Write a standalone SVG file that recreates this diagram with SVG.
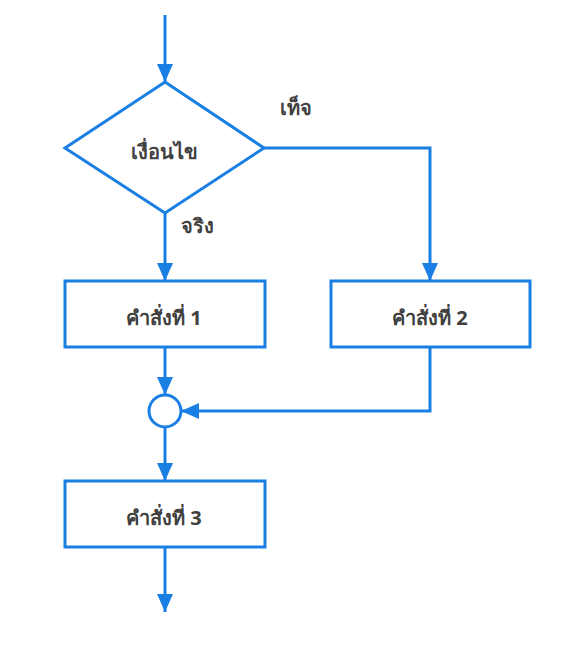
<svg xmlns="http://www.w3.org/2000/svg" width="567" height="645" viewBox="0 0 567 645">
<style>
.shape{fill:#ffffff;stroke:#1a7fe3;stroke-width:3}
.conn{fill:none;stroke:#1a7fe3;stroke-width:3}
.lbl{font-family:"Noto Sans","DejaVu Sans","Liberation Sans",sans-serif;font-weight:bold;font-size:20px;fill:#404040;text-anchor:middle;dominant-baseline:central}
</style>
<defs>
<marker id="ah" markerUnits="userSpaceOnUse" markerWidth="18" markerHeight="16" viewBox="0 0 18 16" refX="18" refY="8" orient="auto">
<path d="M0,0 L18,8 L0,16 Z" fill="#1a7fe3"/>
</marker>
</defs>
<rect width="567" height="645" fill="#ffffff"/>
<g id="connectors">
<path class="conn" d="M165,15 V82" marker-end="url(#ah)"/>
<path class="conn" d="M165,213 V281" marker-end="url(#ah)"/>
<path class="conn" d="M264,148 H430 V281" marker-end="url(#ah)"/>
<path class="conn" d="M165,347 V395" marker-end="url(#ah)"/>
<path class="conn" d="M430,347 V411 H181" marker-end="url(#ah)"/>
<path class="conn" d="M165,427 V481" marker-end="url(#ah)"/>
<path class="conn" d="M165,547 V612" marker-end="url(#ah)"/>
<text class="lbl" x="197" y="225">จริง</text>
<text class="lbl" x="296" y="107">เท็จ</text>
</g>
<g id="decision">
<polygon class="shape" points="165,82 264,148 165,213 65,148"/>
<text class="lbl" x="164" y="151">เงื่อนไข</text>
</g>
<g id="stmt1">
<rect class="shape" x="65" y="281" width="200" height="66"/>
<text class="lbl" x="164" y="317">คำสั่งที่ 1</text>
</g>
<g id="stmt2">
<rect class="shape" x="331" y="281" width="199" height="66"/>
<text class="lbl" x="430" y="317">คำสั่งที่ 2</text>
</g>
<g id="junction">
<circle class="shape" cx="165" cy="411" r="16"/>
</g>
<g id="stmt3">
<rect class="shape" x="65" y="481" width="200" height="66"/>
<text class="lbl" x="164" y="517">คำสั่งที่ 3</text>
</g>
</svg>
